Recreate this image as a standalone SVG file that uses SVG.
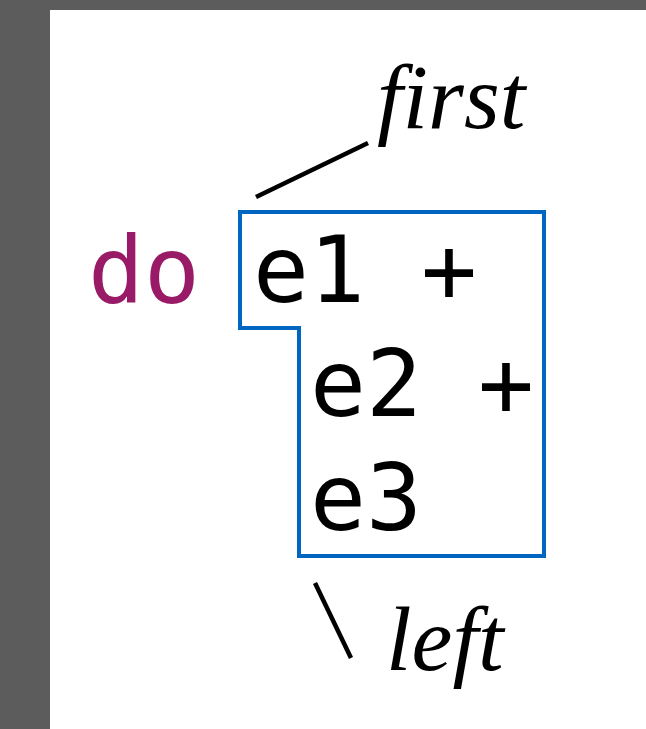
<svg xmlns="http://www.w3.org/2000/svg" width="646" height="729" viewBox="0 0 646 729">
<style>
.code{font-family:"DejaVu Sans Mono","Liberation Mono",monospace;font-size:93px;fill:#000}
.kw{fill:#991a66}
.note{font-family:"Liberation Serif","Times New Roman",serif;font-style:italic;font-size:92px;fill:#000}
.ln{stroke:#000;stroke-width:4.5;fill:none}
</style>
<rect x="0" y="0" width="646" height="729" fill="#5c5c5c"/>
<rect x="50" y="10" width="596" height="719" fill="#fff"/>
<g id="keyword"><text class="code kw" x="88" y="303">do</text></g>
<g id="block">
<path d="M240,212 H544 V556 H299 V328 H240 Z" fill="none" stroke="#0066c2" stroke-width="4"/>
<text class="code" x="253" y="302">e1 +</text>
<text class="code" x="310" y="416">e2 +</text>
<text class="code" x="310" y="530">e3</text>
</g>
<g id="first"><text class="note" x="377" y="128">first</text></g>
<g id="left"><text class="note" x="386" y="670">left</text></g>
<g id="connectors">
<line class="ln" x1="256" y1="197" x2="368" y2="143"/>
<line class="ln" x1="315" y1="583" x2="351" y2="658"/>
</g>
</svg>
